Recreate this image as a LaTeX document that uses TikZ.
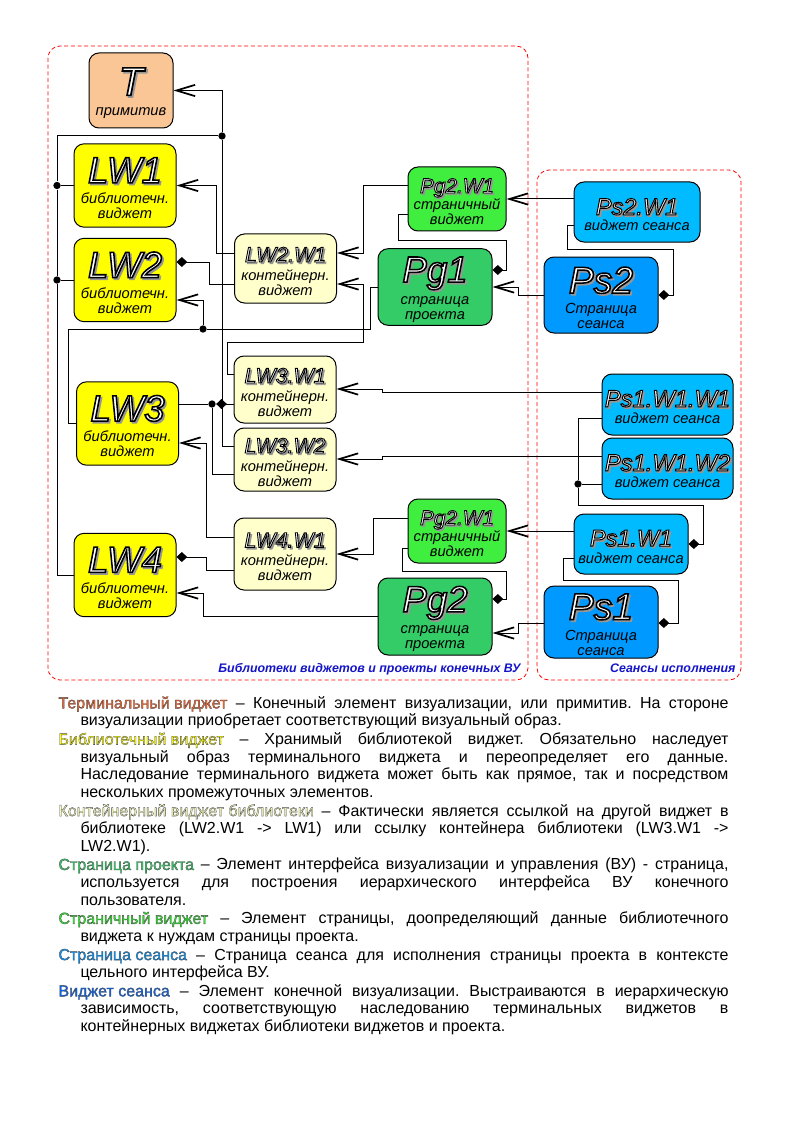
\documentclass[tikz,border=0pt]{standalone}
\usepackage{fontspec}
\setmainfont{Liberation Sans}
\usetikzlibrary{arrows.meta}
\definecolor{termc}{RGB}{250,198,150}
\definecolor{libc}{RGB}{255,255,0}
\definecolor{contc}{RGB}{255,255,204}
\definecolor{pgwc}{RGB}{64,238,64}
\definecolor{pgc}{RGB}{51,204,102}
\definecolor{pswc}{RGB}{0,187,255}
\definecolor{psc}{RGB}{0,153,255}
\definecolor{lblc}{RGB}{20,20,200}
\definecolor{shd}{RGB}{150,150,150}
\definecolor{termtxt}{RGB}{255,100,40}
\definecolor{conttxt}{RGB}{250,250,190}
\definecolor{pgwtxt}{RGB}{40,235,40}
\definecolor{pstxt}{RGB}{0,150,255}
\definecolor{pswtxt}{RGB}{0,100,255}
\newcommand\ttl[2]{\pgfmathsetmacro\ow{#1*0.042}\raisebox{0pt}[\dimexpr\height+4pt\relax][0pt]{\fontsize{#1}{#1}\selectfont
  \rlap{\kern1.3pt\raisebox{-1.3pt}{\color{shd}\special{pdf:literal direct 2 Tr \ow\space w}#2\special{pdf:literal direct 0 Tr}}}%
  {\color{white}\special{pdf:literal direct 0 0 0 RG 2 Tr \ow\space w}#2\special{pdf:literal direct 0 Tr}}}}
\newcommand\trm[2]{\mbox{\color{#1}\special{pdf:literal direct 0.3 0.3 0.3 RG 2 Tr 0.25 w}#2\special{pdf:literal direct 0 Tr}}}
\newcommand\entry[1]{\hangindent=16.5pt\hangafter=1\noindent#1\par}

\begin{document}
\begin{tikzpicture}[x=0.75pt,y=-0.75pt,line width=0.75pt,
  box/.style={draw,rounded corners=7.5pt,align=center,inner sep=0pt,
    font=\fontsize{11}{11.3}\selectfont\itshape},
  lw/.style={fill=libc,minimum width=76.5pt,minimum height=62.5pt},
  cw/.style={fill=contc,minimum width=76.5pt},
  pw/.style={fill=pgwc,minimum width=73.5pt,minimum height=48pt},
  pg/.style={fill=pgc,minimum width=85.5pt,minimum height=57.4pt},
  sw/.style={fill=pswc,minimum height=45pt},
  ss/.style={fill=psc,minimum width=85.5pt,minimum height=57pt},
  dot/.style={circle,fill,inner sep=0pt,minimum size=5.5pt},
  inh/.style={-{Straight Barb[length=14pt,width=8.5pt,line width=1.3pt]}},
  has/.style={{Diamond[length=8pt,width=7.5pt]}-},
  grp/.style={draw=red,densely dashed,rounded corners=9pt,line width=0.6pt},
  grplbl/.style={font=\fontsize{9.3}{11}\selectfont\bfseries\itshape,text=lblc,inner sep=0pt,anchor=base east},
  notes/.style={anchor=north west,inner sep=0pt,text width=502.5pt,align=justify,
    font=\fontsize{12}{13.2}\selectfont}]
\useasboundingbox[fill=white] (0,0) rectangle (794,1123);

\draw[grp] (48,46) rectangle (528,680);
\draw[grp] (537,170) rectangle (741,680);
\node[grplbl] (libcap) at (521,672) {Библиотеки виджетов и проекты конечных ВУ};
\node[grplbl] (sescap) at (736,672) {Сеансы исполнения};

\node[box,fill=termc,minimum width=63pt,minimum height=56.25pt] (T) at (131,90.5) {\ttl{30}{T}\\[3.7pt]примитив};
\node[box,lw] (LW1) at (125,185.5) {\ttl{27.5}{LW1}\\[4.2pt]библиотечн.\\виджет};
\node[box,lw] (LW2) at (125,280) {\ttl{27.5}{LW2}\\[4.2pt]библиотечн.\\виджет};
\node[box,lw] (LW3) at (127.5,423.5) {\ttl{27.5}{LW3}\\[4.2pt]библиотечн.\\виджет};
\node[box,lw] (LW4) at (125,575) {\ttl{27.5}{LW4}\\[4.2pt]библиотечн.\\виджет};

\node[box,cw,minimum height=51.75pt] (LW2W1) at (285.5,268.5) {\ttl{16}{LW2.W1}\\[2.2pt]контейнерн.\\виджет};
\node[box,cw,minimum height=50.25pt] (LW3W1) at (285,389.5) {\ttl{16}{LW3.W1}\\[2.2pt]контейнерн.\\виджет};
\node[box,cw,minimum height=47.25pt] (LW3W2) at (285,459.5) {\ttl{16}{LW3.W2}\\[2.2pt]контейнерн.\\виджет};
\node[box,cw,minimum height=54pt] (LW4W1) at (285,554) {\ttl{16}{LW4.W1}\\[2.2pt]контейнерн.\\виджет};

\node[box,pw] (PgW1a) at (457,199) {\ttl{15.6}{Pg2.W1}\\[1.2pt]страничный\\виджет};
\node[box,pg] (Pg1) at (435,287) {\ttl{27.5}{Pg1}\\[5.2pt]страница\\проекта};
\node[box,pw] (PgW1b) at (457,531) {\ttl{15.6}{Pg2.W1}\\[1.2pt]страничный\\виджет};
\node[box,pg,minimum height=57.75pt] (Pg2) at (435,616.5) {\ttl{27.5}{Pg2}\\[5.2pt]страница\\проекта};

\node[box,sw,minimum width=94.5pt] (Ps2W1) at (637,212) {\ttl{17.6}{Ps2.W1}\\[0.7pt]виджет сеанса};
\node[box,ss] (Ps2) at (601,295) {\ttl{28}{Ps2}\\[3.7pt]Страница\\сеанса};
\node[box,sw,minimum width=98.25pt,minimum height=45.75pt] (Ps1W1W1) at (667.5,404.5) {\ttl{17.8}{Ps1.W1.W1}\\[1.4pt]виджет сеанса};
\node[box,sw,minimum width=98.25pt,minimum height=45.75pt] (Ps1W1W2) at (667.5,468.5) {\ttl{17.8}{Ps1.W1.W2}\\[1.4pt]виджет сеанса};
\node[box,sw,minimum width=85.5pt] (Ps1W1) at (631,544) {\ttl{17.6}{Ps1.W1}\\[1.4pt]виджет сеанса};
\node[box,ss,minimum height=54pt] (Ps1) at (601,622) {\ttl{28}{Ps1}\\[4.2pt]Страница\\сеанса};

\node[dot] (j1) at (222,136) {};
\node[dot] (j2) at (57,185.5) {};
\node[dot] (j3) at (57,280) {};
\node[dot] (j4) at (203,329) {};
\node[dot] (j5) at (212,404) {};
\node[dot] (j6) at (578,484) {};

\draw[inh] (j1) |- (T.east);
\draw (j1) -| (j2) -- (j3) |- (LW4.west);
\draw (j2) -- (LW1.west);
\draw (j3) -- (LW2.west);
\draw (j1) |- (LW3W2.west |- 0,446);
\draw[inh] (LW2W1.west |- 0,253) -- ++(-18,0) |- (LW1.east);
\draw[has] (LW2.east |- 0,262) -- ++(33,0) |- (LW2W1.west |- 0,284);
\draw[inh] (j4) |- (LW2.east |- 0,300);
\draw (LW3.west) -| (68,329) -- (j4);
\draw (j4) -| (370,287) -- (Pg1.west);
\draw[has] (Pg1.east |- 0,270) -| (506,240) -| (398,215) -- (PgW1a.west |- 0,215);
\draw[inh] (PgW1a.west |- 0,186) -| (363,253) -- (LW2W1.east |- 0,253);
\draw[inh] (LW3W1.west |- 0,374) -| (227,342) -| (363,284) -- (LW2W1.east |- 0,284);
\draw[inh] (Ps2.west) -| (518,287) -- (Pg1.east);
\draw[inh] (Ps2W1.west |- PgW1a.east) -- (PgW1a.east);
\draw[has] (Ps2.east) -| (673,249) -| (567,226) -- (Ps2W1.west |- 0,226);
\draw[has] (LW3.east |- 0,404) -- (j5) -- (LW3W1.west |- 0,404);
\draw (j5) |- (LW3W2.west |- 0,474);
\draw[inh] (LW4W1.west |- 0,537) -| (206,443) -- (LW3.east |- 0,443);
\draw[has] (LW4.east |- 0,557) -| (206,570) -- (LW4W1.west |- 0,570);
\draw[inh] (Pg2.west) -| (203,593) -- (LW4.east |- 0,593);
\draw[inh] (Ps1W1W1.west |- 0,392) -| (382,389) -- (LW3W1.east |- 0,389);
\draw[inh] (Ps1W1W2.west |- 0,456) -| (382,459) -- (LW3W2.east |- 0,459);
\draw[inh] (PgW1b.west |- 0,518) -| (373,554) -- (LW4W1.east);
\draw[has] (Pg2.east |- 0,599) -| (506,571) -| (402,548) -- (PgW1b.west |- 0,548);
\draw[inh] (Ps1W1.west |- PgW1b.east) -- (PgW1b.east);
\draw[has] (Ps1W1.east) -| (703,505) -| (j6);
\draw (j6) |- (Ps1W1W1.west |- 0,418);
\draw (j6) -- (Ps1W1W2.west |- 0,484);
\draw[has] (Ps1.east |- 0,623) -| (678,580) -| (563,558) -- (Ps1W1.west |- 0,558);
\draw[inh] (Ps1.west |- 0,623) -| (518,633) -- (Pg2.east |- 0,633);

\node[notes] (legend) at (58,696) {\parindent=0pt\parskip=0.8pt\frenchspacing\hyphenpenalty=10000\exhyphenpenalty=10000
\entry{\trm{termtxt}{Терминальный виджет} – Конечный элемент визуализации, или примитив. На стороне\linebreak визуализации приобретает соответствующий визуальный образ.}
\entry{\trm{libc}{Библиотечный виджет} – Хранимый библиотекой виджет. Обязательно наследует\linebreak визуальный образ терминального виджета и переопределяет его данные.\linebreak Наследование терминального виджета может быть как прямое, так и посредством\linebreak нескольких промежуточных элементов.}
\entry{\trm{conttxt}{Контейнерный виджет библиотеки} – Фактически является ссылкой на другой виджет в\linebreak библиотеке (LW2.W1 -> LW1) или ссылку контейнера библиотеки (LW3.W1 ->\linebreak LW2.W1).}
\entry{\trm{pgc}{Страница проекта} – Элемент интерфейса визуализации и управления (ВУ) - страница,\linebreak используется для построения иерархического интерфейса ВУ конечного\linebreak пользователя.}
\entry{\trm{pgwtxt}{Страничный виджет} – Элемент страницы, доопределяющий данные библиотечного\linebreak виджета к нуждам страницы проекта.}
\entry{\trm{pstxt}{Страница сеанса} – Страница сеанса для исполнения страницы проекта в контексте\linebreak цельного интерфейса ВУ.}
\entry{\trm{pswtxt}{Виджет сеанса} – Элемент конечной визуализации. Выстраиваются в иерархическую\linebreak зависимость, соответствующую наследованию терминальных виджетов в\linebreak контейнерных виджетах библиотеки виджетов и проекта.}};
\end{tikzpicture}
\end{document}
